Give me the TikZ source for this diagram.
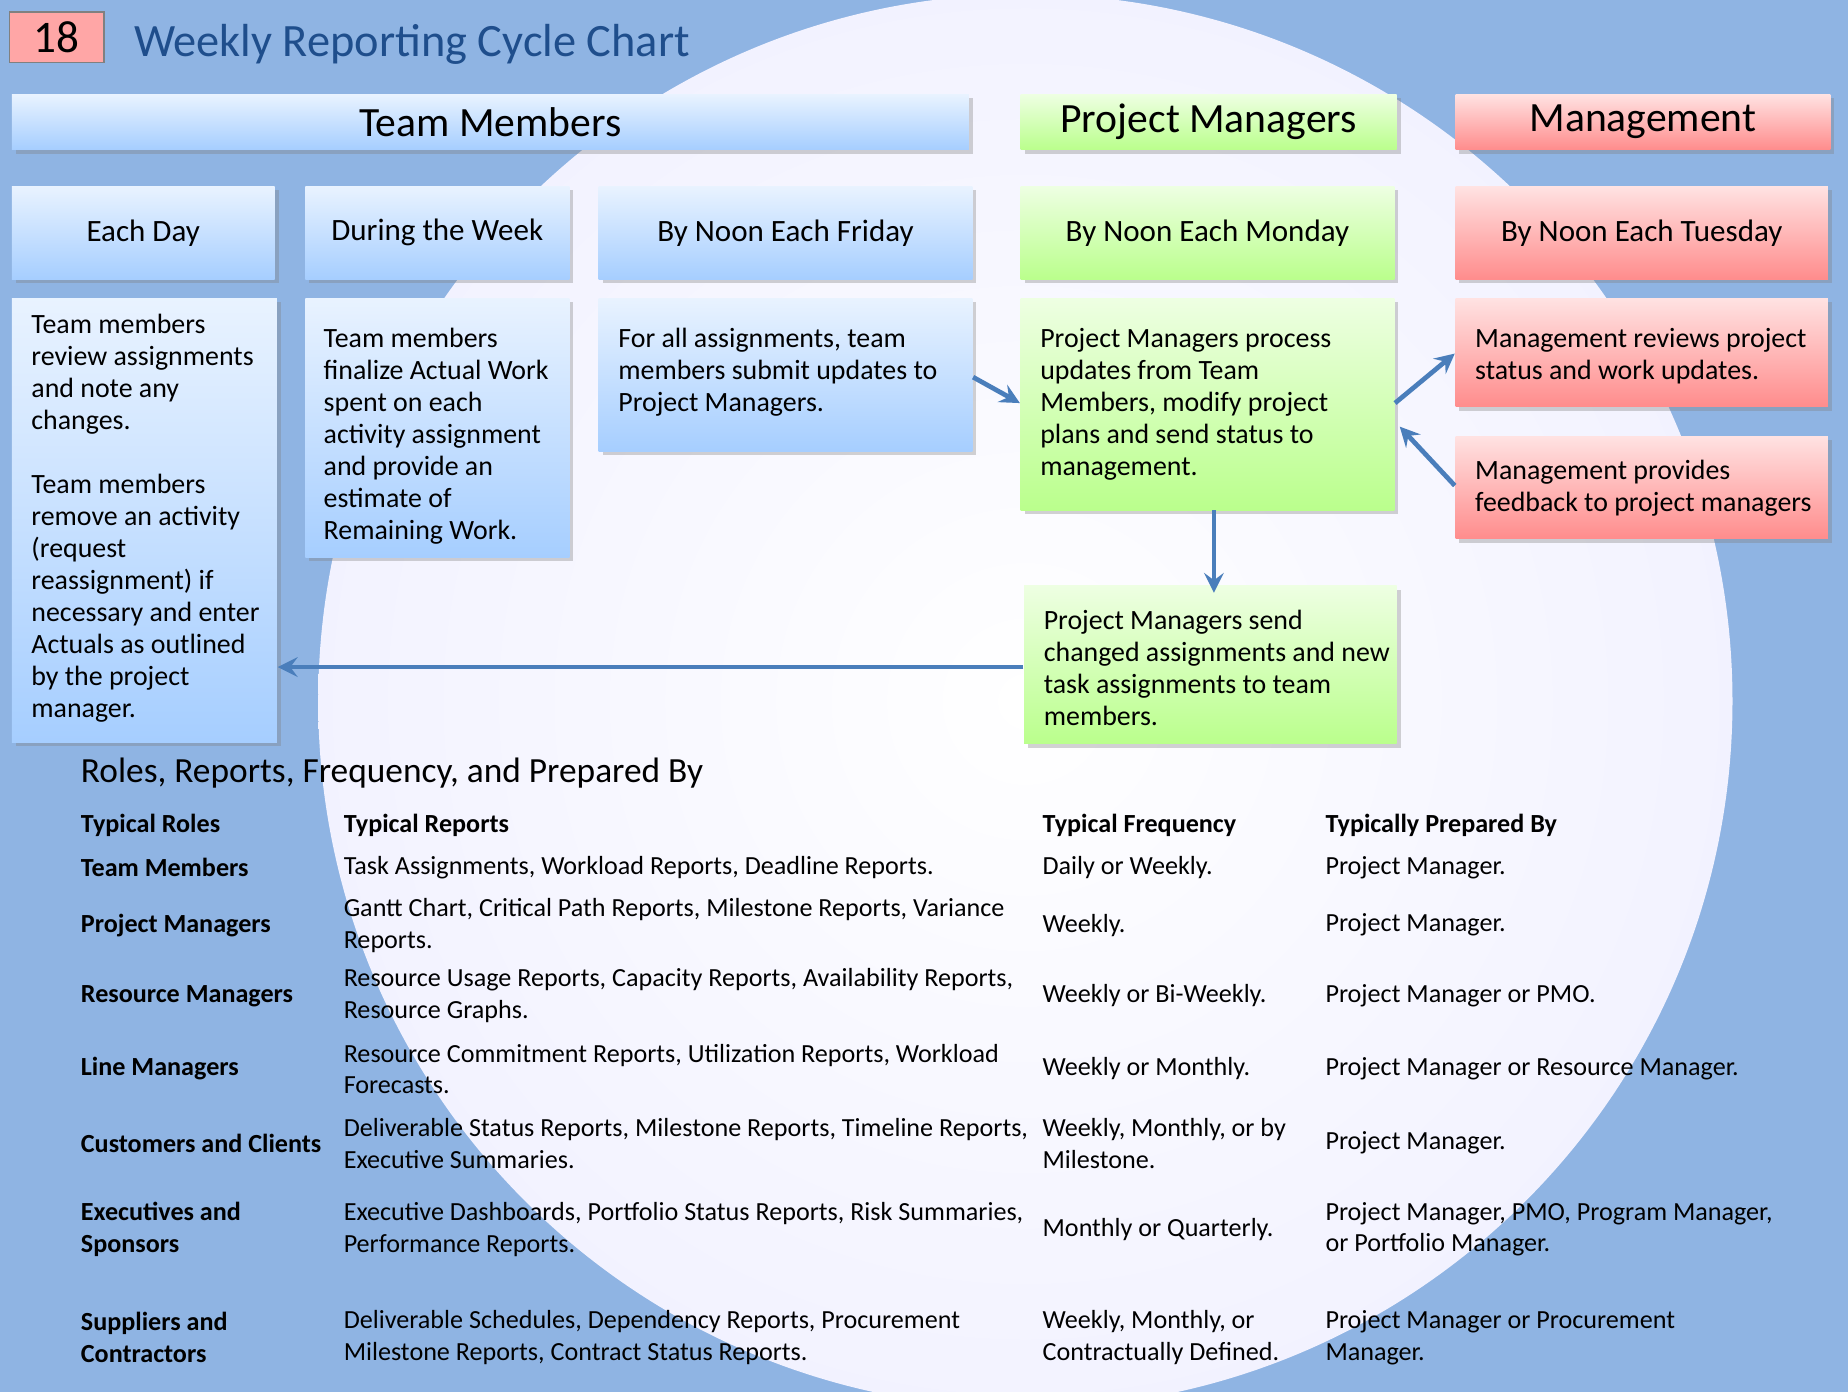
\documentclass[tikz,border=0pt]{standalone}
\usepackage{fontspec}
\setmainfont{Carlito}
\usetikzlibrary{calc,fit,shadows,positioning}
\definecolor{bgblue}{HTML}{8FB4E3}
\definecolor{ttlblue}{HTML}{1F4E8C}
\definecolor{arr}{HTML}{4A7EBB}
\tikzset{
	box/.style 2 args={fit={#1}, inner sep=0pt, draw=none, top color=#2!25, bottom color=#2,
		drop shadow={opacity=0.35, shadow xshift=1pt, shadow yshift=-1pt}},
	blu/.style={box={#1}{blue!55!cyan!35!white}},
	grn/.style={box={#1}{green!60!yellow!45!white}},
	rd/.style={box={#1}{red!45!white}},
	hd/.style={font=\fontsize{10.6}{12}\selectfont},
	sb/.style={font=\fontsize{7.9}{9}\selectfont},
	txt/.style={anchor=north west, align=left, inner sep=0pt, font=\fontsize{7.1}{8.15}\selectfont},
	cell/.style={anchor=west, align=left, inner sep=0pt, font=\fontsize{6.65}{8.1}\selectfont},
	flow/.style={->, >=stealth, very thick, draw=arr}
}
\begin{document}
\begin{tikzpicture}[x=0.3pt, y=-0.3pt]
\useasboundingbox (0,0) rectangle (1568,1181);
\fill[bgblue] (0,0) rectangle (1568,1181);
\begin{scope}
\clip (0,0) rectangle (1568,1181);
\shade[inner color=white, outer color=blue!5!white] (870,595) circle (600);
\end{scope}

% title
\node[draw=gray, fill=red!35!white, inner sep=0pt, fit={(8,10)(88,53)}] (num) {};
\node[font=\fontsize{11.5}{13}\selectfont] at (num) {18};
\node[anchor=west, text=ttlblue, font=\fontsize{11.8}{13}\selectfont] (title) at (102,38) {Weekly Reporting Cycle Chart};

% headers
\node[blu={(10,80)(822,127)}] (tm) {};
\node[hd] at (tm) {Team Members};
\node[grn={(866,80)(1185,127)}] (pm) {};
\node[hd] at (pm) {Project Managers};
\node[rd={(1235,80)(1553,127)}] (mg) {};
\node[hd] at (mg) {Management};

\node[blu={(10,158)(233,237)}] (day) {};
\node[sb] at (day) {Each Day};
\node[blu={(259,158)(483,237)}] (week) {};
\node[sb] at (week) {During the Week};
\node[blu={(508,158)(825,237)}] (fri) {};
\node[sb] at (fri) {By Noon Each Friday};
\node[grn={(866,158)(1183,237)}] (mon) {};
\node[sb] at (mon) {By Noon Each Monday};
\node[rd={(1235,158)(1551,237)}] (tue) {};
\node[sb] at (tue) {By Noon Each Tuesday};

% text boxes
\node[blu={(10,253)(235,630)}] (dayb) {};
\node[txt] at (26,266) {Team members\\ review assignments\\ and note any\\ changes.\\[8.15pt]
Team members\\ remove an activity\\ (request\\ reassignment) if\\ necessary and enter\\ Actuals as outlined\\ by the project\\ manager.};
\node[blu={(259,253)(483,473)}] (weekb) {};
\node[txt] at (274,278) {Team members\\ finalize Actual Work\\ spent on each\\ activity assignment\\ and provide an\\ estimate of\\ Remaining Work.};
\node[blu={(508,253)(825,383)}] (frib) {};
\node[txt] at (524,278) {For all assignments, team\\ members submit updates to\\ Project Managers.};
\node[grn={(866,253)(1183,433)}] (monb) {};
\node[txt] at (882,278) {Project Managers process\\ updates from Team\\ Members, modify project\\ plans and send status to\\ management.};
\node[rd={(1235,253)(1551,345)}] (rev) {};
\node[txt] at (1251,278) {Management reviews project\\ status and work updates.};
\node[rd={(1235,370)(1551,457)}] (fb) {};
\node[txt] at (1251,390) {Management provides\\ feedback to project managers};
\node[grn={(869,497)(1185,631)}] (send) {};
\node[txt] at (885,517) {Project Managers send\\ changed assignments and new\\ task assignments to team\\ members.};

% connectors
\draw[flow] (frib.east |- 0,320) -- (monb.west |- 0,342);
\draw[flow] (monb.east |- 0,342) -- (rev.west |- 0,300);
\draw[flow] (fb.west |- 0,412) -- ($(monb.east |- 0,362)+(4,0)$);
\draw[flow] (1030,433) -- (1030,503);
\draw[flow] (send.west |- 0,566) -- (dayb.east |- 0,566);

% table
\node[anchor=west, inner sep=0pt, font=\fontsize{9}{10}\selectfont] (ttl) at (68,656) {Roles, Reports, Frequency, and Prepared By};
\foreach \x/\t in {68/Typical Roles, 291/Typical Reports, 884/Typical Frequency, 1124/Typically Prepared By}
	\node[cell, font=\bfseries\fontsize{6.65}{8.1}\selectfont] at (\x,700) {\t};
\foreach \y/\r/\p/\f/\b in {
	736/Team Members/{Task Assignments, Workload Reports, Deadline Reports.}/{Daily or Weekly.}/{Project Manager.},
	785/Project Managers/{Gantt Chart, Critical Path Reports, Milestone Reports, Variance\\ Reports.}/{Weekly.}/{Project Manager.},
	845/Resource Managers/{Resource Usage Reports, Capacity Reports, Availability Reports,\\ Resource Graphs.}/{Weekly or Bi-Weekly.}/{Project Manager or PMO.},
	907/Line Managers/{Resource Commitment Reports, Utilization Reports, Workload\\ Forecasts.}/{Weekly or Monthly.}/{Project Manager or Resource Manager.},
	970/Customers and Clients/{Deliverable Status Reports, Milestone Reports, Timeline Reports,\\ Executive Summaries.}/{Weekly, Monthly, or by\\ Milestone.}/{Project Manager.},
	1043/{Executives and\\ Sponsors}/{Executive Dashboards, Portfolio Status Reports, Risk Summaries,\\ Performance Reports.}/{Monthly or Quarterly.}/{Project Manager, PMO, Program Manager,\\ or Portfolio Manager.},
	1135/{Suppliers and\\ Contractors}/{Deliverable Schedules, Dependency Reports, Procurement\\ Milestone Reports, Contract Status Reports.}/{Weekly, Monthly, or\\ Contractually Defined.}/{Project Manager or Procurement\\ Manager.}} {
	\node[cell, font=\bfseries\fontsize{6.65}{8.1}\selectfont] at (68,\y) {\r};
	\node[cell] at (291,\y) {\p};
	\node[cell] at (884,\y) {\f};
	\node[cell] at (1124,\y) {\b};
}
\end{tikzpicture}
\end{document}
